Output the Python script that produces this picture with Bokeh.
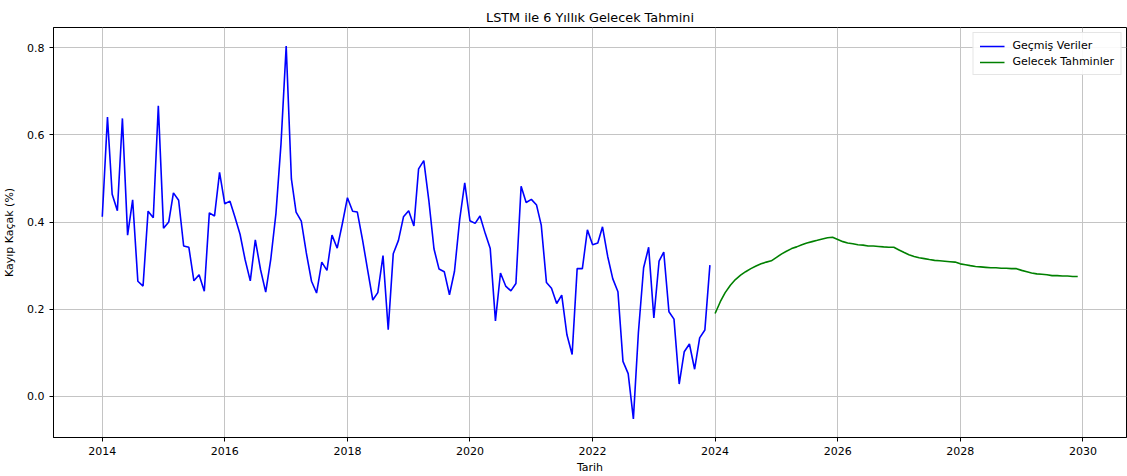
import pandas as pd
from bokeh.plotting import figure
from bokeh.models import (Range1d, FixedTicker, DatetimeTickFormatter, PrintfTickFormatter,
                          Legend, LegendItem)
from bokeh.embed import file_html
from bokeh.resources import INLINE

# ---------------- data ----------------
hist_start = "2014-01-01"
fc_start = "2024-01-01"

hist_values = [
    0.412, 0.641, 0.464, 0.426, 0.638, 0.370, 0.451, 0.264, 0.253, 0.425, 0.410, 0.667,
    0.386, 0.400, 0.467, 0.450, 0.345, 0.342, 0.265, 0.279, 0.241, 0.421, 0.414, 0.514,
    0.442, 0.448, 0.412, 0.372, 0.314, 0.265, 0.359, 0.291, 0.239, 0.314, 0.420, 0.579,
    0.804, 0.499, 0.423, 0.402, 0.329, 0.264, 0.237, 0.308, 0.289, 0.370, 0.340, 0.395,
    0.456, 0.425, 0.423, 0.359, 0.291, 0.221, 0.238, 0.323, 0.153, 0.327, 0.358, 0.412,
    0.426, 0.391, 0.522, 0.541, 0.450, 0.338, 0.292, 0.286, 0.233, 0.287, 0.406, 0.490,
    0.403, 0.397, 0.414, 0.374, 0.339, 0.173, 0.283, 0.253, 0.242, 0.259, 0.482, 0.445,
    0.452, 0.439, 0.393, 0.261, 0.248, 0.213, 0.232, 0.141, 0.096, 0.293, 0.293, 0.382,
    0.348, 0.352, 0.389, 0.321, 0.270, 0.240, 0.080, 0.052, -0.052, 0.147, 0.295, 0.342,
    0.180, 0.310, 0.331, 0.194, 0.177, 0.028, 0.102, 0.120, 0.062, 0.134, 0.152, 0.301,
]

fc_values = [
    0.190, 0.217, 0.238, 0.255, 0.268, 0.278, 0.286, 0.293, 0.299, 0.304, 0.308, 0.311,
    0.319, 0.327, 0.333, 0.339, 0.343, 0.348, 0.352, 0.355, 0.358, 0.361, 0.364, 0.365,
    0.360, 0.355, 0.352, 0.350, 0.348, 0.347, 0.345, 0.345, 0.344, 0.343, 0.342, 0.342,
    0.336, 0.330, 0.325, 0.321, 0.318, 0.316, 0.314, 0.312, 0.311, 0.310, 0.309, 0.308,
    0.304, 0.302, 0.300, 0.298, 0.297, 0.296, 0.295, 0.295, 0.294, 0.294, 0.293, 0.293,
    0.289, 0.286, 0.283, 0.281, 0.280, 0.279, 0.277, 0.277, 0.276, 0.276, 0.275, 0.275,
]

x_tick_years = [2014, 2016, 2018, 2020, 2022, 2024, 2026, 2028, 2030]
y_ticks = [0.0, 0.2, 0.4, 0.6, 0.8]

title_text = "LSTM ile 6 Yıllık Gelecek Tahmini"
x_label = "Tarih"
y_label = "Kayıp Kaçak (%)"
legend_labels = ["Geçmiş Veriler", "Gelecek Tahminler"]

hist_dates = pd.date_range(hist_start, periods=len(hist_values), freq="MS")
fc_dates = pd.date_range(fc_start, periods=len(fc_values), freq="MS")

# ---------------- ranges (matplotlib-like 5% margins) ----------------
x0 = hist_dates[0].value / 1e6
x1 = fc_dates[-1].value / 1e6
xpad = 0.05 * (x1 - x0)
allv = hist_values + fc_values
y0, y1 = min(allv), max(allv)
ypad = 0.05 * (y1 - y0)

FONT = "DejaVu Sans"

p = figure(width=1127, height=476, x_axis_type="datetime",
           output_backend="svg", toolbar_location=None,
           x_range=Range1d(x0 - xpad, x1 + xpad),
           y_range=Range1d(y0 - ypad, y1 + ypad),
           min_border_left=53, min_border_right=1, min_border_top=27, min_border_bottom=36)

p.title.text = title_text
p.title.align = "center"
p.title.text_font = FONT
p.title.text_font_size = "12.8px"
p.title.text_font_style = "normal"
p.title.text_color = "black"
p.title.standoff = 6

r1 = p.line(hist_dates, hist_values, line_color="blue", line_width=1.6)
r2 = p.line(fc_dates, fc_values, line_color="green", line_width=1.6)

# axes
tick_ms = [pd.Timestamp(f"{y}-01-01").value / 1e6 for y in x_tick_years]
p.xaxis.ticker = FixedTicker(ticks=tick_ms)
p.xaxis.formatter = DatetimeTickFormatter(
    years="%Y", months="%Y", days="%Y", hours="%Y", minutes="%Y",
    seconds="%Y", milliseconds="%Y", microseconds="%Y", hourmin="%Y", minsec="%Y")
p.yaxis.ticker = FixedTicker(ticks=y_ticks)
p.yaxis.formatter = PrintfTickFormatter(format="%.1f")

p.xaxis.axis_label = x_label
p.yaxis.axis_label = y_label
for ax in (p.xaxis, p.yaxis):
    ax.axis_label_text_font = FONT
    ax.axis_label_text_font_size = "11px"
    ax.axis_label_text_font_style = "normal"
    ax.axis_label_text_color = "black"
    ax.major_label_text_font = FONT
    ax.major_label_text_font_size = "11px"
    ax.major_label_text_color = "black"
    ax.major_tick_in = 0
    ax.major_tick_out = 4
    ax.major_tick_line_color = "black"
    ax.minor_tick_line_color = None
    ax.axis_line_color = "black"
p.xaxis.major_label_standoff = 5
p.xaxis.axis_label_standoff = 3
p.yaxis.major_label_standoff = 5
p.yaxis.axis_label_standoff = 8

p.outline_line_color = "black"
p.outline_line_width = 1
p.outline_line_alpha = 1

p.xgrid.ticker = FixedTicker(ticks=tick_ms)
p.ygrid.ticker = FixedTicker(ticks=y_ticks)
p.grid.grid_line_color = "#c4c4c4"
p.grid.grid_line_width = 1

legend = Legend(items=[LegendItem(label=legend_labels[0], renderers=[r1]),
                       LegendItem(label=legend_labels[1], renderers=[r2])],
                location="top_right")
legend.label_text_font = FONT
legend.label_text_font_size = "11px"
legend.label_text_color = "black"
legend.glyph_width = 25
legend.glyph_height = 12
legend.label_height = 12
legend.label_standoff = 8
legend.spacing = 3
legend.padding = 6
legend.margin = 5
legend.border_line_color = "#cccccc"
legend.border_line_width = 1
legend.background_fill_alpha = 0.9
p.add_layout(legend)

open("out.html", "w").write(file_html(p, INLINE))
